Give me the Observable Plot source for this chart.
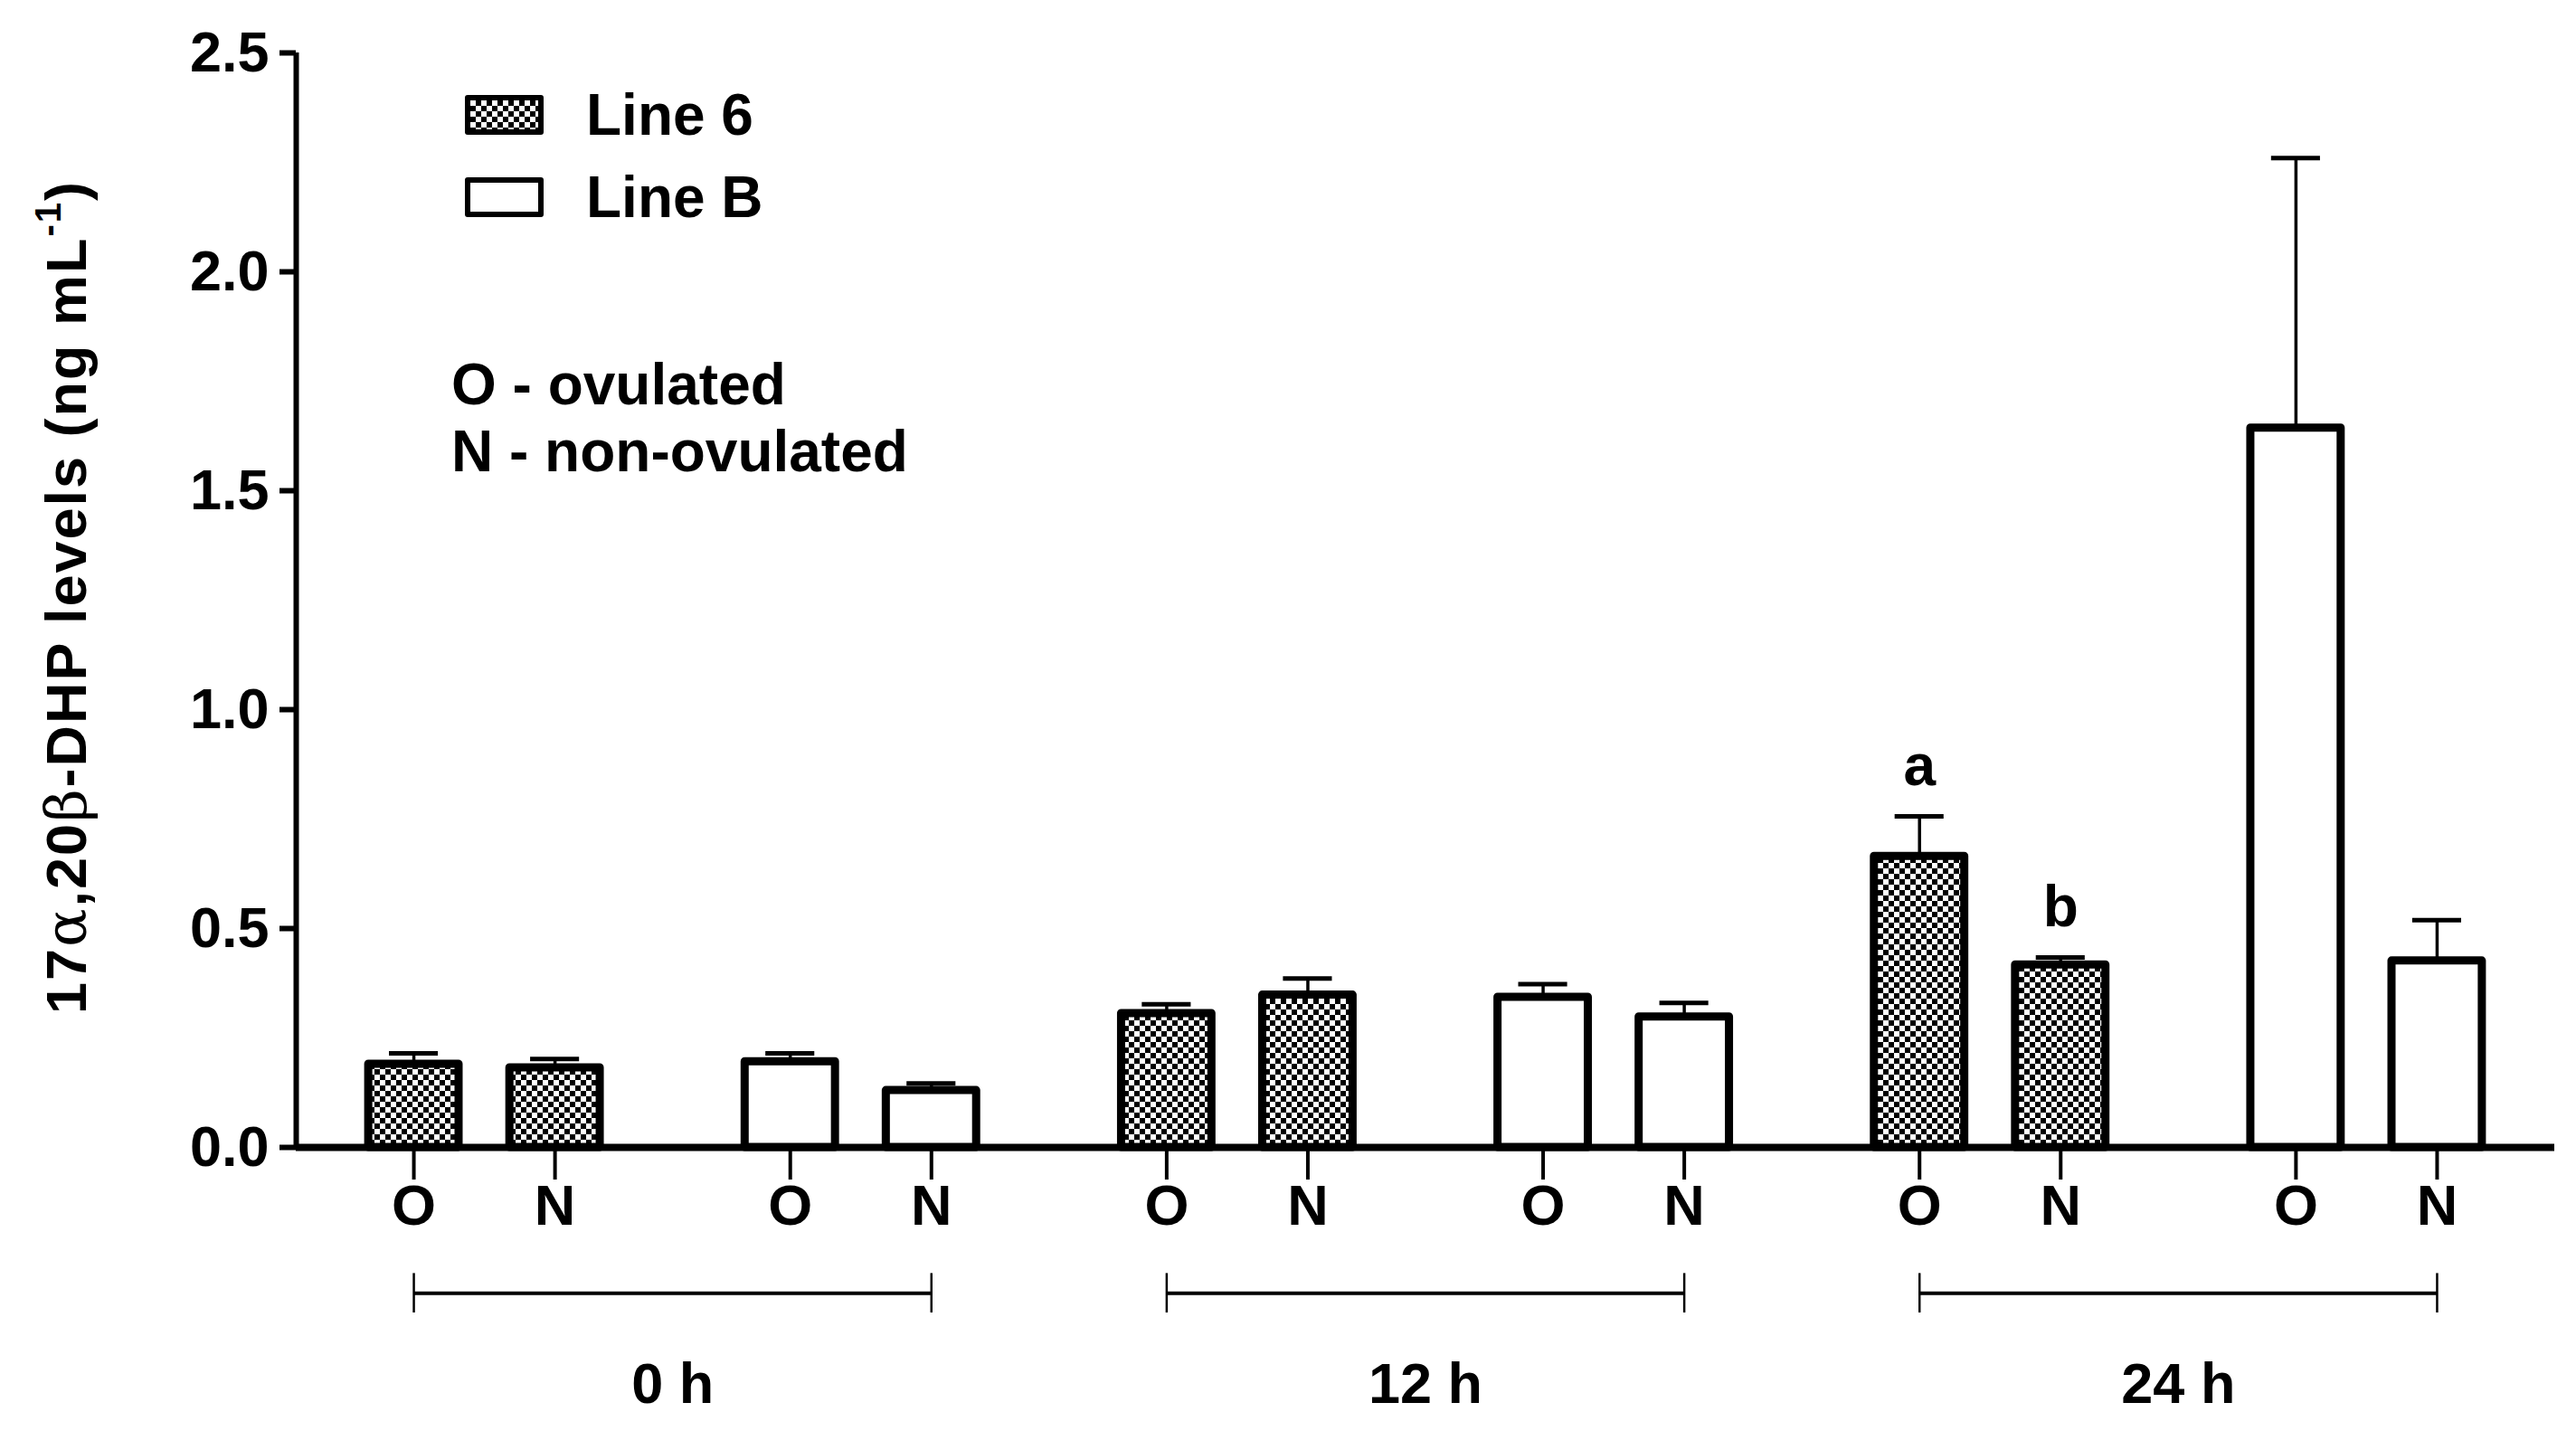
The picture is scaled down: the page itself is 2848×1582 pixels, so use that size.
<!DOCTYPE html>
<html>
<head>
<meta charset="utf-8">
<script src="https://cdn.jsdelivr.net/npm/d3@7"></script>
<script src="https://cdn.jsdelivr.net/npm/@observablehq/plot@0.6"></script>
<style>
  body { margin: 0; background: #fff; }
  #wrap { position: relative; width: 2848px; height: 1582px; font-family: "Liberation Sans", Arial, sans-serif; font-weight: bold; color: #000; }
  .abs { position: absolute; white-space: nowrap; line-height: 1; }
  .sw { position: absolute; width: 75px; height: 32px; border: 6px solid #000; box-sizing: content-box; border-radius: 3px; }
  .sw.pat { background: repeating-conic-gradient(#000 0 25%, #fff 0 50%) 0 0 / 12px 12px; }
  .sw.open { background: #fff; }
  .lbl { font-size: 64px; transform: translateY(-50%); }
  #ylab { position: absolute; left: 73px; top: 660px; transform: translate(-50%, -50%) rotate(-90deg); font-size: 63px; white-space: nowrap; letter-spacing: 2px; }
  #ylab .g { font-family: "DejaVu Serif", "Liberation Serif", serif; font-weight: normal; }
  #ylab sup { font-size: 40px; vertical-align: 28px; line-height: 0; }
</style>
</head>
<body>
<div id="wrap"></div>
<script>
// ---- data ----
const times = ["0 h", "12 h", "24 h"];
const lines = ["Line 6", "Line B"];
const statuses = ["O", "N"];
const line6O = [0.190, 0.306, 0.665];
const line6N = [0.182, 0.348, 0.417];
const lineBO = [0.196, 0.343, 1.643];
const lineBN = [0.130, 0.298, 0.426];
const line6O_sem = [0.025, 0.021, 0.091];
const line6N_sem = [0.020, 0.038, 0.017];
const lineBO_sem = [0.019, 0.030, 0.617];
const lineBN_sem = [0.016, 0.032, 0.093];
const line6O_sig = ["", "", "a"];
const line6N_sig = ["", "", "b"];
const yTicks = [0, 0.5, 1.0, 1.5, 2.0, 2.5];

// ---- table ----
const means = { "Line 6": { O: line6O, N: line6N }, "Line B": { O: lineBO, N: lineBN } };
const sems = { "Line 6": { O: line6O_sem, N: line6N_sem }, "Line B": { O: lineBO_sem, N: lineBN_sem } };
const sigs = { "Line 6": { O: line6O_sig, N: line6N_sig }, "Line B": { O: ["", "", ""], N: ["", "", ""] } };

const OFF = 0.1875, HALF = 0.12, CAP = 0.065;
const rows = [];
times.forEach((t, ti) => lines.forEach((ln, li) => statuses.forEach((s, si) => {
  const pair = ti * 2 + li;
  const pos = pair + (si === 0 ? -OFF : OFF);
  const mean = means[ln][s][ti], sem = sems[ln][s][ti];
  rows.push({ time: t, line: ln, status: s, pos, mean, sem, top: mean + sem, sig: sigs[ln][s][ti] });
})));
const groups = times.map(t => {
  const r = rows.filter(d => d.time === t);
  const x1 = d3.min(r, d => d.pos), x2 = d3.max(r, d => d.pos);
  return { time: t, x1, x2, xc: (x1 + x2) / 2 };
});
const ends = groups.flatMap(g => [{ x: g.x1 }, { x: g.x2 }]);

const chart = Plot.plot({
  width: 2848,
  height: 1582,
  marginLeft: 327,
  marginRight: 24,
  marginTop: 58,
  marginBottom: 314,
  style: { fontFamily: "Liberation Sans, Arial, sans-serif", fontSize: "63px", fontWeight: "bold", color: "#000", background: "#fff" },
  x: { domain: [-0.5, 5.5], axis: null },
  y: { domain: [0, 2.5], axis: null },
  marks: [
    Plot.axisY({ ticks: yTicks, tickFormat: d3.format(".1f"), tickSize: 18, tickPadding: 12, strokeWidth: 6, label: null }),
    Plot.axisX({ ticks: rows.map(d => d.pos), tickFormat: d => (d - Math.round(d) < 0 ? "O" : "N"), tickSize: 36, tickPadding: 5, strokeWidth: 4, label: null }),
    Plot.ruleX(rows, { x: "pos", y1: "mean", y2: "top", stroke: "#000", strokeWidth: 3.5 }),
    Plot.ruleY(rows, { y: "top", x1: d => d.pos - CAP, x2: d => d.pos + CAP, stroke: "#000", strokeWidth: 5 }),
    Plot.rectY(rows, {
      x1: d => d.pos - HALF, x2: d => d.pos + HALF, y: "mean",
      fill: d => (d.line === "Line 6" ? "url(#checker)" : "#fff"),
      stroke: "#000", strokeWidth: 9, strokeLinejoin: "round"
    }),
    Plot.ruleX([-0.5], { stroke: "#000", strokeWidth: 6 }),
    Plot.ruleY([0], { stroke: "#000", strokeWidth: 8 }),
    Plot.text(rows.filter(d => d.sig), { x: "pos", y: "top", text: "sig", dy: -55, lineAnchor: "middle", fontSize: 64, fontWeight: "bold" }),
    // time-group brackets below the axis
    Plot.ruleY(groups, { y: -0.333, x1: "x1", x2: "x2", stroke: "#000", strokeWidth: 4 }),
    Plot.ruleX(ends, { x: "x", y1: -0.378, y2: -0.288, stroke: "#000", strokeWidth: 2.5 }),
    Plot.text(groups, { x: "xc", y: -0.543, text: "time", lineAnchor: "middle", fontSize: 63, fontWeight: "bold" })
  ]
});

// checker pattern for "Line 6"
const defs = d3.select(chart).insert("defs", ":first-child");
const pat = defs.append("pattern").attr("id", "checker").attr("patternUnits", "userSpaceOnUse").attr("width", 12).attr("height", 12);
pat.append("rect").attr("width", 12).attr("height", 12).attr("fill", "#fff");
pat.append("rect").attr("width", 6).attr("height", 6).attr("fill", "#000");
pat.append("rect").attr("x", 6).attr("y", 6).attr("width", 6).attr("height", 6).attr("fill", "#000");

const wrap = document.getElementById("wrap");
wrap.appendChild(chart);
chart.style.position = "absolute";
chart.style.left = "0";
chart.style.top = "0";

// legend and notes
const overlay = document.createElement("div");
overlay.innerHTML = `
  <div class="sw pat" style="left:514px; top:105px;"></div>
  <div class="abs lbl" style="left:648px; top:127px;">${lines[0]}</div>
  <div class="sw open" style="left:514px; top:196px;"></div>
  <div class="abs lbl" style="left:648px; top:218px;">${lines[1]}</div>
  <div class="abs lbl" style="left:499px; top:425px;">O - ovulated</div>
  <div class="abs lbl" style="left:499px; top:499px;">N - non-ovulated</div>
  <div id="ylab">17<span class="g">α</span>,20<span class="g">β</span>-DHP levels (ng mL<sup>-1</sup>)</div>
`;
wrap.appendChild(overlay);
</script>
</body>
</html>
